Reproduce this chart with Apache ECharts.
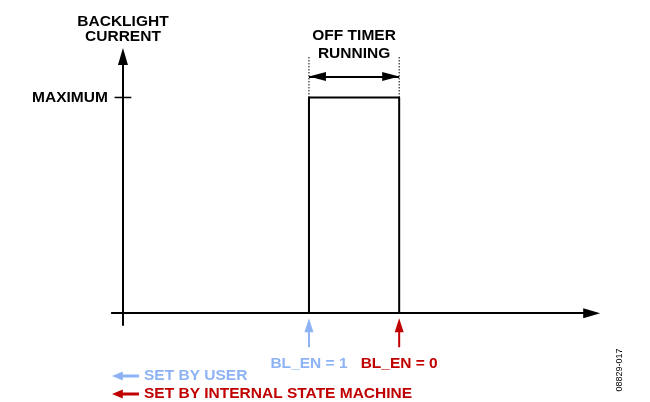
<!DOCTYPE html>
<html>
<head>
<meta charset="utf-8">
<script src="https://cdn.jsdelivr.net/npm/echarts@6/dist/echarts.min.js"></script>
<style>html,body{margin:0;padding:0;background:#fff;}#chart{width:650px;height:402px;}</style>
</head>
<body>
<div id="chart"></div>
<script>
// ---- data ----
const pulseX = [2, 2, 2.97, 2.97];
const pulseY = [0, 1, 1, 0];
const eventX = [2, 2.97];
const eventLabels = ['BL_EN = 1', 'BL_EN = 0'];
const eventNames = ['SET BY USER', 'SET BY INTERNAL STATE MACHINE'];
const eventColors = ['#8db3f5', '#c00000'];
const levelTicks = [1];
const levelLabels = ['MAXIMUM'];
const guideTop = 1.195;
const timerArrowLevel = 1.097;
const eventArrowFrom = -0.157;
const eventArrowTo = -0.0556;
const maxTickHalf = 0.09;
const figureId = '08829-017';

const FONT = 'Liberation Sans, Arial, sans-serif';
const boldText = {fontFamily: FONT, fontWeight: 'bold', fontSize: 15.5};

const chart = echarts.init(document.getElementById('chart'), null, {renderer: 'canvas'});

const guideSeries = eventX.map((x, i) => ({
  name: 'guide' + i, type: 'line', silent: true, symbol: 'none', clip: false,
  data: [[x, pulseY[1]], [x, guideTop]],
  lineStyle: {color: '#000', width: 1, type: [1.5, 1.5]}
}));

const eventSeries = eventX.map((x, i) => ({
  name: eventNames[i], type: 'line', silent: true, clip: false, color: eventColors[i],
  lineStyle: {color: eventColors[i], width: 2},
  itemStyle: {color: eventColors[i]},
  data: [
    {value: [x, eventArrowFrom], symbol: 'circle', symbolSize: 1,
     label: {show: true, position: 'bottom', distance: 8, formatter: eventLabels[i], color: eventColors[i], ...boldText}},
    {value: [x, eventArrowTo], symbol: 'triangle', symbolSize: [9, 14]}
  ]
}));

const option = {
  animation: false,
  backgroundColor: '#ffffff',
  grid: {left: 111.8, right: 58.3, top: 56.5, bottom: 77, containLabel: false, outerBoundsMode: 'none'},
  xAxis: {
    type: 'value', min: -0.12, max: 5.04,
    axisLine: {onZero: true, symbol: ['none', 'triangle'], symbolSize: [10, 17], lineStyle: {color: '#000', width: 2}},
    axisTick: {show: false}, axisLabel: {show: false}, splitLine: {show: false}
  },
  yAxis: {
    type: 'value', min: -0.055, max: 1.19,
    name: 'BACKLIGHT\nCURRENT', nameLocation: 'end', nameGap: 12,
    nameTextStyle: {...boldText, color: '#000', lineHeight: 15, align: 'center'},
    axisLine: {onZero: true, symbol: ['none', 'triangle'], symbolSize: [10, 17], lineStyle: {color: '#000', width: 2}},
    axisTick: {show: false},
    axisLabel: {customValues: levelTicks, formatter: (v) => levelLabels[levelTicks.indexOf(v)] || '', margin: 4, color: '#000', ...boldText},
    splitLine: {show: false}
  },
  legend: {
    orient: 'vertical', left: 112, top: 368, padding: 0, itemWidth: 27, itemHeight: 10, itemGap: 2,
    selectedMode: false,
    icon: 'path://M0,5L12,0L12,3.4L30,3.4L30,6.6L12,6.6L12,10Z',
    textStyle: {...boldText, lineHeight: 15.5},
    data: eventNames.map((n, i) => ({name: n, textStyle: {color: eventColors[i]}}))
  },
  series: [
    {
      name: 'pulse', type: 'line', silent: true, symbol: 'none', clip: false,
      data: pulseX.map((x, i) => [x, pulseY[i]]),
      lineStyle: {color: '#000', width: 2},
      markLine: {
        silent: true, animation: false,
        symbol: ['triangle', 'triangle'], symbolSize: [9, 17], symbolOffset: [[0, 8.5], [0, 8.5]],
        lineStyle: {color: '#000', width: 2, type: 'solid'},
        label: {show: true, position: 'insideMiddleTop', distance: 14, formatter: 'OFF TIMER\nRUNNING', color: '#000', lineHeight: 18, align: 'center', ...boldText},
        data: [[{coord: [eventX[0], timerArrowLevel]}, {coord: [eventX[1], timerArrowLevel]}]]
      }
    },
    ...guideSeries,
    {
      name: 'maxTick', type: 'line', silent: true, symbol: 'none', clip: false,
      data: [[-maxTickHalf, levelTicks[0]], [maxTickHalf, levelTicks[0]]],
      lineStyle: {color: '#000', width: 1.5}
    },
    ...eventSeries
  ],
  graphic: [{
    type: 'text', x: 620, y: 370, rotation: Math.PI / 2,
    style: {text: figureId, font: '9px ' + FONT, fill: '#000', align: 'center', verticalAlign: 'middle'}
  }]
};
chart.setOption(option);
</script>
</body>
</html>
